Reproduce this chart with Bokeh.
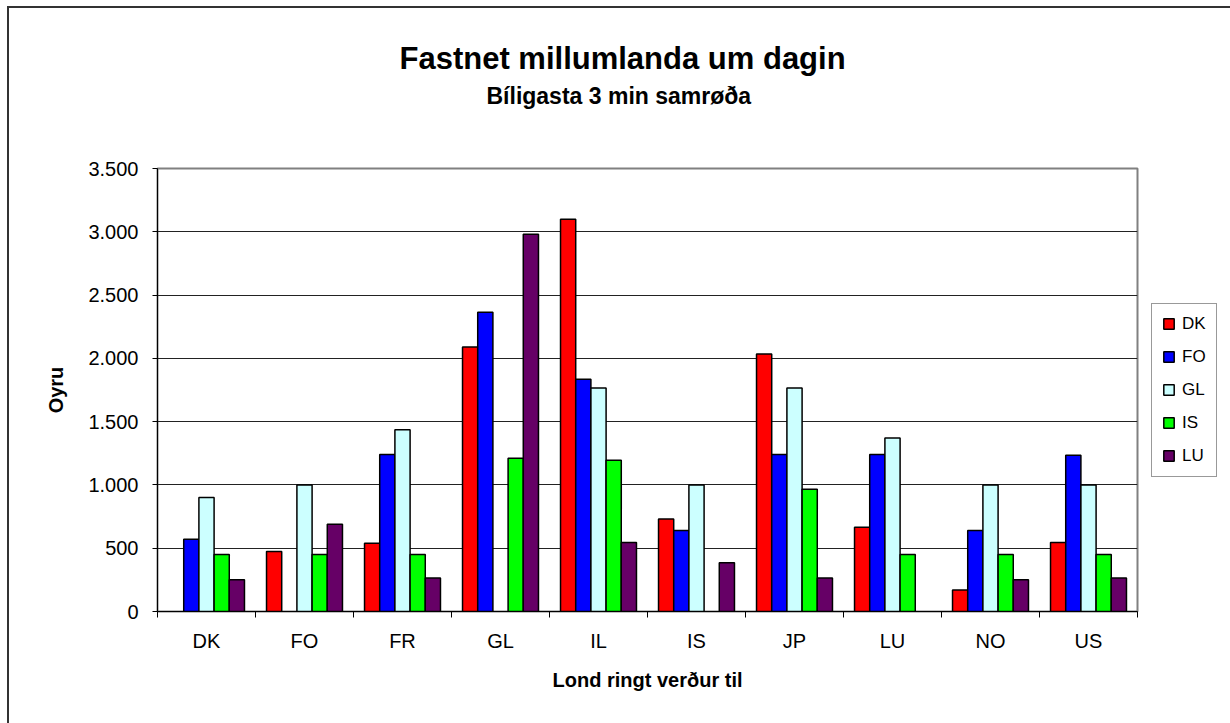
import numpy as np
from bokeh.plotting import figure
from bokeh.models import (ColumnDataSource, Range1d, FixedTicker, Title, Legend, LegendItem)
from bokeh.transform import dodge
from bokeh.embed import file_html
from bokeh.resources import INLINE

nan = float("nan")

# ---- data ----
categories = ["DK", "FO", "FR", "GL", "IL", "IS", "JP", "LU", "NO", "US"]
series_names = ["DK", "FO", "GL", "IS", "LU"]
series_colors = ["#FF0000", "#0000FF", "#CCFFFF", "#00FF00", "#660066"]

dk_values = [nan, 475, 540, 2090, 3100, 730, 2035, 665, 170, 545]
fo_values = [570, nan, 1240, 2365, 1835, 640, 1240, 1240, 640, 1235]
gl_values = [900, 1000, 1435, nan, 1765, 1000, 1765, 1370, 1000, 1000]
is_values = [450, 450, 450, 1210, 1195, nan, 965, 450, 450, 450]
lu_values = [250, 690, 265, 2980, 545, 385, 265, nan, 250, 265]

y_ticks = [0, 500, 1000, 1500, 2000, 2500, 3000, 3500]
y_tick_labels = ["0", "500", "1.000", "1.500", "2.000", "2.500", "3.000", "3.500"]

title_text = "Fastnet millumlanda um dagin"
subtitle_text = "Bíligasta 3 min samrøða"
x_title = "Lond ringt verður til"
y_title = "Oyru"

FONT = "Liberation Sans"

# ---- build ----
n = len(categories)
centers = [i + 0.5 for i in range(n)]
boundaries = [float(i) for i in range(n + 1)]

data = dict(pos=centers, cat=categories)
for name, vals in zip(series_names, [dk_values, fo_values, gl_values, is_values, lu_values]):
    data[name] = vals
src = ColumnDataSource(data)

p = figure(frame_width=980, frame_height=443,
           x_range=Range1d(0, n), y_range=Range1d(0, 3500),
           output_backend="svg", toolbar_location=None,
           min_border_left=148, min_border_right=93,
           min_border_top=160, min_border_bottom=112,
           background_fill_color="white", border_fill_color="white")
p.styles = {"border-top": "2px solid #333333", "border-left": "2px solid #333333",
            "margin-top": "6px", "margin-left": "7px"}

bar_w = 0.155
renderers = []
for k, (name, col) in enumerate(zip(series_names, series_colors)):
    r = p.vbar(x=dodge("pos", (k - 2) * bar_w, range=p.x_range), top=name, bottom=0,
               width=bar_w, source=src, fill_color=col, line_color="black", line_width=1.5)
    renderers.append(r)

# axes
p.xaxis.ticker = FixedTicker(ticks=centers, minor_ticks=boundaries)
p.xaxis.major_label_overrides = {c: lab for c, lab in zip(centers, categories)}
p.xaxis.major_tick_line_color = None
p.xaxis.major_tick_out = 6
p.xaxis.major_tick_in = 0
p.xaxis.minor_tick_line_color = "black"
p.xaxis.minor_tick_out = 6
p.xaxis.minor_tick_in = 0
p.xaxis.major_label_standoff = 12
p.xaxis.axis_label = x_title
p.xaxis.axis_label_standoff = 14

p.yaxis.ticker = FixedTicker(ticks=y_ticks)
p.yaxis.major_label_overrides = {v: lab for v, lab in zip(y_ticks, y_tick_labels)}
p.yaxis.major_tick_out = 5
p.yaxis.major_tick_in = 0
p.yaxis.minor_tick_line_color = None
p.yaxis.major_label_standoff = 14
p.yaxis.axis_label = y_title
p.yaxis.axis_label_standoff = 18

for ax in (p.xaxis, p.yaxis):
    ax.axis_line_color = "black"
    ax.axis_line_width = 1
    ax.major_tick_line_width = 1
    ax.major_label_text_font = FONT
    ax.major_label_text_font_size = "20px"
    ax.major_label_text_color = "black"
    ax.axis_label_text_font = FONT
    ax.axis_label_text_font_size = "20px"
    ax.axis_label_text_font_style = "bold"
    ax.axis_label_text_color = "black"

p.xgrid.visible = False
p.ygrid.ticker = FixedTicker(ticks=y_ticks)
p.ygrid.grid_line_color = "#222222"
p.ygrid.grid_line_width = 1

p.outline_line_color = "#808080"
p.outline_line_width = 2

# titles: spacer nearest the frame, subtitle above it, main title outermost
p.title.text = title_text
p.title.align = "left"
p.title.offset = 242
p.title.text_font = FONT
p.title.text_font_size = "31px"
p.title.text_font_style = "bold"
p.title.text_color = "black"
p.title.standoff = 0

p.add_layout(Title(text=" ", text_font_size="1px", standoff=52), "above")
p.add_layout(Title(text=subtitle_text, align="left", offset=329, text_font=FONT,
                   text_font_size="23px", text_font_style="bold", text_color="black",
                   standoff=10), "above")

legend = Legend(items=[LegendItem(label=nm, renderers=[r]) for nm, r in zip(series_names, renderers)],
                location="center_left")
legend.label_text_font = FONT
legend.label_text_font_size = "17px"
legend.label_text_color = "black"
legend.glyph_width = 13
legend.glyph_height = 13
legend.label_height = 20
legend.label_standoff = 7
legend.padding = 10
legend.spacing = 13
legend.margin = 14
legend.border_line_color = "#333333"
legend.border_line_width = 1
legend.background_fill_color = "white"
legend.background_fill_alpha = 1
p.add_layout(legend, "right")

open("out.html", "w").write(file_html(p, INLINE))
